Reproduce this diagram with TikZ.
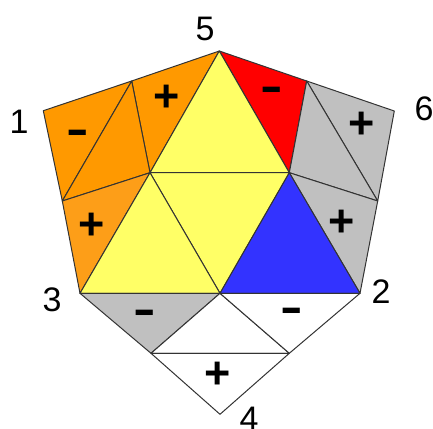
\documentclass[tikz,border=0pt]{standalone}
\usepackage{fontspec}
\setmainfont{Liberation Sans}
\begin{document}
\begin{tikzpicture}[x=1pt,y=-1pt,
  face/.style={draw=black!80,line width=1pt,line join=round},
  num/.style={font=\fontsize{34}{34}\selectfont,inner sep=0pt},
  sgn/.style={font=\fontsize{45}{45}\selectfont\bfseries,inner sep=0pt},
  dsh/.style={font=\fontsize{45}{45}\selectfont\bfseries,inner sep=0pt,xscale=1.5}]
\definecolor{orA}{HTML}{FF9900}
\definecolor{orB}{HTML}{FD9E18}
\definecolor{yel}{HTML}{FFFF66}
\definecolor{blu}{HTML}{3333FF}
\definecolor{gry}{HTML}{C0C0C0}
\useasboundingbox (0,0) rectangle (433,428);
\coordinate (v5) at (219.3,51);
\coordinate (M) at (150,172.7);
\coordinate (N) at (289.3,172.7);
\coordinate (v3) at (80,293.3);
\coordinate (B) at (220,293.3);
\coordinate (v2) at (360,293.3);
\coordinate (A) at (131.7,81);
\coordinate (v1) at (43.3,110.7);
\coordinate (L) at (62.3,201);
\coordinate (R) at (306.7,81);
\coordinate (v6) at (394.3,111);
\coordinate (Rm) at (377.7,201);
\coordinate (P) at (151,353.3);
\coordinate (Q) at (289.3,353.3);
\coordinate (v4) at (220,414.3);
% left orange
\filldraw[face,fill=orA] (v5) -- (A) -- (M) -- cycle;
\filldraw[face,fill=orA] (A) -- (v1) -- (L) -- cycle;
\filldraw[face,fill=orA] (A) -- (L) -- (M) -- cycle;
\filldraw[face,fill=orB] (L) -- (v3) -- (M) -- cycle;
% right
\filldraw[face,fill=red] (v5) -- (R) -- (N) -- cycle;
\filldraw[face,fill=gry] (R) -- (v6) -- (Rm) -- cycle;
\filldraw[face,fill=gry] (R) -- (Rm) -- (N) -- cycle;
\filldraw[face,fill=gry] (N) -- (Rm) -- (v2) -- cycle;
% centre
\filldraw[face,fill=yel] (v5) -- (M) -- (N) -- cycle;
\filldraw[face,fill=yel] (M) -- (N) -- (B) -- cycle;
\filldraw[face,fill=yel] (M) -- (v3) -- (B) -- cycle;
\filldraw[face,fill=blu] (N) -- (B) -- (v2) -- cycle;
% bottom
\filldraw[face,fill=gry] (v3) -- (B) -- (P) -- cycle;
\filldraw[face,fill=white] (B) -- (P) -- (Q) -- cycle;
\filldraw[face,fill=white] (B) -- (Q) -- (v2) -- cycle;
\filldraw[face,fill=white] (P) -- (Q) -- (v4) -- cycle;
% vertex labels
\node[num] (l5) at (205,29) {5};
\node[num] (l1) at (19,122) {1};
\node[num] (l6) at (424,109) {6};
\node[num] (l3) at (52,300) {3};
\node[num] (l2) at (381,292) {2};
\node[num] (l4) at (249,419) {4};
% signs
\node[dsh] (s1) at (78,137) {-};
\node[sgn] (s2) at (167,98) {+};
\node[sgn] (s3) at (92,226) {+};
\node[dsh] (s4) at (272,94) {-};
\node[sgn] (s5) at (362,125) {+};
\node[sgn] (s6) at (342,223) {+};
\node[dsh] (s7) at (145,317) {-};
\node[dsh] (s8) at (292,315) {-};
\node[sgn] (s9) at (218,375) {+};
\end{tikzpicture}
\end{document}
